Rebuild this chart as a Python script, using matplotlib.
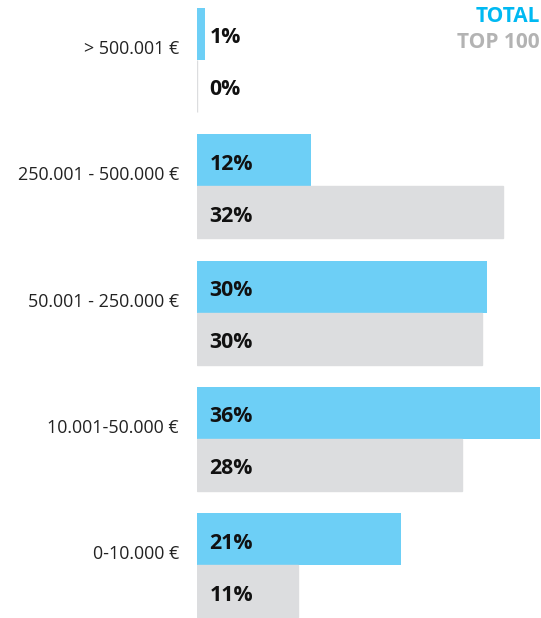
import numpy as np
import matplotlib.pyplot as plt

plt.rcParams['font.family'] = ['Open Sans', 'DejaVu Sans']

categories = ['> 500.001 €', '250.001 - 500.000 €', '50.001 - 250.000 €',
              '10.001-50.000 €', '0-10.000 €']
total = [0.8, 12.0, 30.4, 36.0, 21.4]
top100 = [0.0, 32.1, 29.9, 27.8, 10.6]

blue = '#6dcff6'
grey = '#dcdddf'

fig = plt.figure(figsize=(5.41, 6.18), dpi=100)
ax = fig.add_axes([197 / 541, 0, 344 / 541, 1 - 8 / 618])

period = 2.428
idx = np.arange(len(categories))
y_tot = idx * period + 0.5
y_top = idx * period + 1.5

ax.barh(y_tot, total, height=1.0, color=blue, linewidth=0)
ax.barh(y_top, top100, height=1.0, color=grey, edgecolor=grey, linewidth=1)

# value labels, nudged down a bit so they sit in the middle of the bar
for yy, v in zip(y_tot, total):
    ax.text(1.3, yy + 0.07, f'{v:.0f}%', va='center', ha='left', fontsize=15.3,
            fontweight='bold', color='#111111')
for yy, v in zip(y_top, top100):
    ax.text(1.3, yy + 0.07, f'{v:.0f}%', va='center', ha='left', fontsize=15.3,
            fontweight='bold', color='#111111')

ax.set_xlim(0, 36.1)
ax.set_ylim(idx[-1] * period + 2.01, 0)
ax.set_yticks(idx * period + 0.75)
ax.set_yticklabels(categories, fontsize=12.9, color='#222222')
ax.tick_params(axis='y', length=0, pad=13)
ax.set_xticks([])
for s in ax.spines.values():
    s.set_visible(False)

fig.text(540 / 541, 1 - 16 / 618, 'TOTAL', ha='right', va='center',
         fontsize=15, fontweight='bold', color='#00b9f2')
fig.text(540 / 541, 1 - 42 / 618, 'TOP 100', ha='right', va='center',
         fontsize=15, fontweight='bold', color='#b3b3b3')

fig.savefig('out.png', dpi=100)
